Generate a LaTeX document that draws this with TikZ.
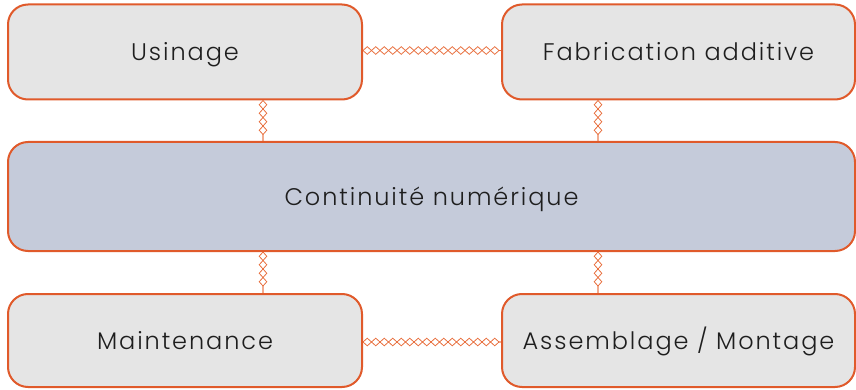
\documentclass[tikz,border=0pt]{standalone}
\usepackage{fontspec}
\setmainfont{Poppins}[UprightFont=* Light, LetterSpace=8]
\usetikzlibrary{decorations.pathmorphing}
\definecolor{edgec}{HTML}{E05A2B}
\definecolor{chainc}{HTML}{E8703F}
\definecolor{boxgray}{HTML}{E5E5E5}
\definecolor{boxblue}{HTML}{C5CBDA}
\definecolor{txtc}{HTML}{1E1E1E}
\begin{document}
\begin{tikzpicture}[x=1pt,y=-1pt,
  box/.style={draw=edgec, line width=2pt, rounded corners=20pt, fill=boxgray, text=txtc,
    font=\fontsize{24}{28}\selectfont, inner sep=0pt, text height=20pt, text depth=3pt},
  bluebox/.style={box, fill=boxblue},
  chain/.style={draw=chainc, line width=0.8pt, decorate,
    decoration={zigzag, segment length=17pt, amplitude=3.8pt}},
  chainm/.style={chain, decoration={zigzag, segment length=17pt, amplitude=3.8pt, mirror}}
]
\useasboundingbox (0,0) rectangle (856,390);
\node[box, minimum width=354pt, minimum height=95pt] (u) at (185,52) {Usinage};
\node[box, minimum width=353pt, minimum height=95pt] (f) at (678.5,52) {Fabrication additive};
\node[bluebox, minimum width=847pt, minimum height=109pt] (c) at (431.5,196.5) {Continuité numérique};
\node[box, minimum width=354pt, minimum height=93pt] (m) at (185,340.5) {Maintenance};
\node[box, minimum width=353pt, minimum height=93pt] (a) at (678.5,340.5) {Assemblage / Montage};
\coordinate (h1) at (0,50.5);
\coordinate (h2) at (0,342);
\coordinate (v1) at (263,0);
\coordinate (v2) at (598,0);
\foreach \s in {chain,chainm}{
  \draw[\s] (u.east |- h1) -- (f.west |- h1);
  \draw[\s] (m.east |- h2) -- (a.west |- h2);
  \draw[\s] (u.south -| v1) -- (c.north -| v1);
  \draw[\s] (f.south -| v2) -- (c.north -| v2);
  \draw[\s] (c.south -| v1) -- (m.north -| v1);
  \draw[\s] (c.south -| v2) -- (a.north -| v2);
}
\end{tikzpicture}
\end{document}
